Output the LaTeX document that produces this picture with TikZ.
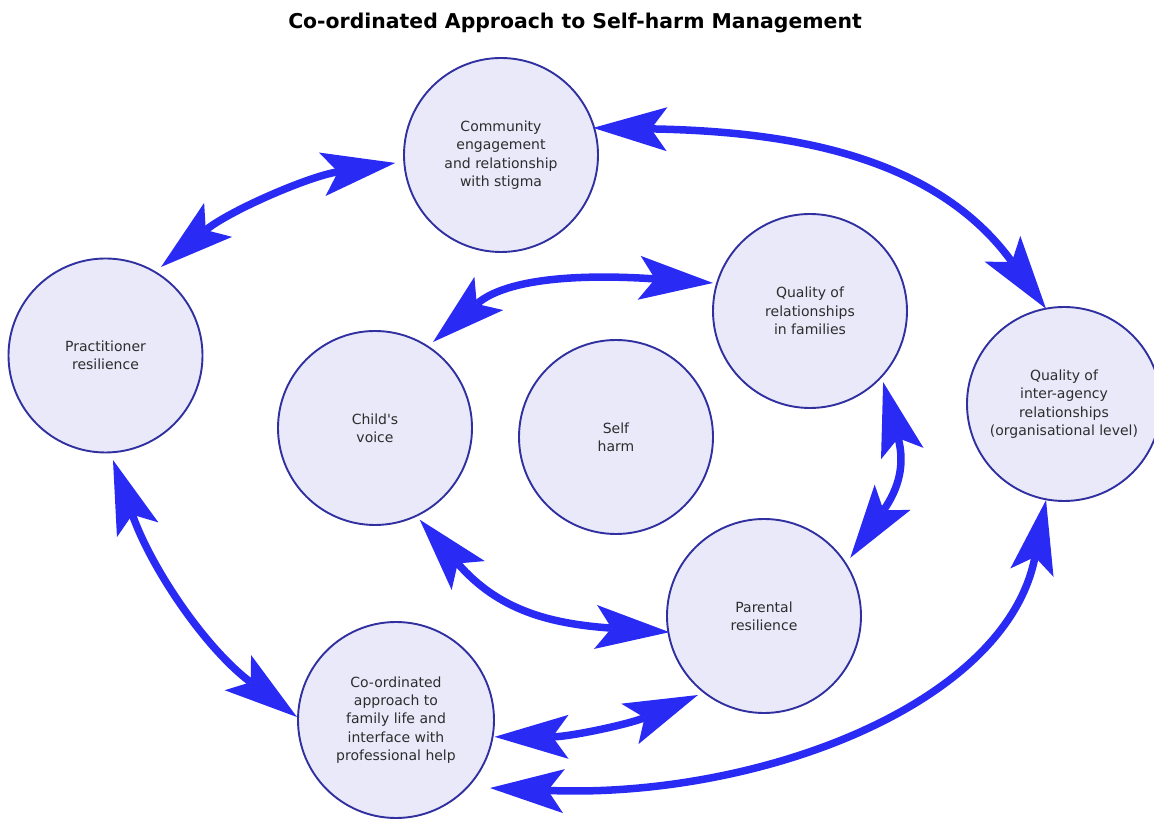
\documentclass[tikz,border=0pt]{standalone}
\usepackage{fontspec}
\setmainfont{DejaVu Sans}
\newfontfamily\plainquote{DejaVu Sans}
\usetikzlibrary{arrows.meta,calc}
\definecolor{arrblue}{RGB}{42,42,245}
\definecolor{circfill}{RGB}{233,233,250}
\definecolor{circdraw}{RGB}{48,48,160}
\definecolor{txtgray}{RGB}{45,45,45}
\tikzset{
  bigtip/.tip={Stealth[length=74pt,width=44pt,inset=16pt,line width=0pt]},
  bub/.style={circle, draw=circdraw, line width=1.9pt, fill=circfill,
    minimum size=194pt, inner sep=0pt, align=center, text=txtgray,
    font=\fontsize{14}{18.3}\selectfont},
  arr/.style={draw=arrblue, line width=7.5pt, bigtip-bigtip},
  titlestyle/.style={font=\fontsize{20.4}{24}\selectfont\bfseries, text=black, anchor=base}
}
\begin{document}
\begin{tikzpicture}[x=1pt,y=1pt]
\useasboundingbox (0,0) rectangle (1154,819);
\clip (0,0) rectangle (1154,819);
\node[titlestyle] (title) at (575,790.5) {Co-ordinated Approach to Self-harm Management};

\node[bub] (comm)  at (501,664)   {Community\\engagement\\and relationship\\with stigma};
\node[bub] (prac)  at (105.5,463.5) {Practitioner\\resilience};
\node[bub] (qual)  at (810,508)   {Quality of\\relationships\\in families};
\node[bub] (inter) at (1064,415)  {Quality of\\inter-agency\\relationships\\(organisational level)};
\node[bub] (child) at (375,391)   {Child{\plainquote '}s\\voice};
\node[bub] (self)  at (616,382)   {Self\\harm};
\node[bub] (par)   at (764,203)   {Parental\\resilience};
\node[bub, minimum size=196pt] (coord) at (396,99) {Co-ordinated\\approach to\\family life and\\interface with\\professional help};

% Practitioner <-> Community
\draw[arr] ($(prac)+(57.9:104.5)$) .. controls +(39.5:88) and +(188.8:88) .. ($(comm)+(184.3:106)$);
% Community <-> Inter-agency
\draw[arr] ($(comm)+(16.4:96)$) .. controls +(-1:195) and +(126:190) .. ($(inter)+(100.7:97)$);
% Child <-> Quality of relationships
\draw[arr] ($(child)+(56:103.7)$) .. controls +(41:105) and +(176:105) .. ($(qual)+(163.9:101)$);
% Quality of relationships <-> Parental
\draw[arr] ($(qual)+(-44.2:102)$) .. controls +(-75:85) and +(55:85) .. ($(par)+(34:104)$);
% Child <-> Parental
\draw[arr] ($(child)+(-64:102)$) .. controls +(-49:120) and +(176:120) .. ($(par)+(-170.3:96)$);
% Co-ordinated <-> Parental
\draw[arr] ($(coord)+(-9.7:100)$) .. controls +(0:75) and +(203:75) .. ($(par)+(-129.9:103)$);
% Co-ordinated <-> Inter-agency
\draw[arr] ($(coord)+(-35.9:116)$) .. controls +(-2.4:265) and +(-101:210) .. ($(inter)+(-100.6:97.7)$);
% Practitioner <-> Co-ordinated
\draw[arr] ($(prac)+(-85.9:104.8)$) .. controls +(-70.5:115) and +(143.1:115) .. ($(coord)+(178.3:99)$);
\end{tikzpicture}
\end{document}
